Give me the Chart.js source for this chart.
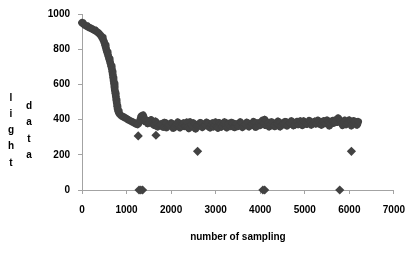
<!DOCTYPE html>
<html>
<head>
<meta charset="utf-8">
<script src="https://cdn.jsdelivr.net/npm/chart.js@4"></script>
<style>
  html, body { margin: 0; padding: 0; background: #ffffff; }
  #wrap { width: 415px; height: 256px; position: relative; }
</style>
</head>
<body>
<div id="wrap"><canvas id="c"></canvas></div>
<script>
// ---- data ----
const sampleIndex = [0,15,30,50,70,90,110,130,150,170,190,210,230,250,270,290,310,330,350,370,
  390,410,430,450,470,490,505,520,535,550,565,580,595,610,625,640,655,670,680,690,
  700,710,720,730,740,750,760,770,780,790,800,815,830,850,870,890,910,940,970,1000,
  1030,1060,1090,1120,1150,1180,1210,1240,1270,
  1300,1330,1370,1400,1450,1500,1550,1600,1650,1700,1750,1800,1850,1900,1950,2000,2050,2100,2150,2200,
  2250,2300,2350,2400,2450,2500,2550,2600,2650,2700,2750,2800,2850,2900,2950,3000,3050,3100,3150,3200,
  3250,3300,3350,3400,3450,3500,3550,3600,3650,3700,3750,3800,3850,3900,3950,4000,4050,4100,4150,4200,
  4250,4300,4350,4400,4450,4500,4550,4600,4650,4700,4750,4800,4850,4900,4950,5000,5050,5100,5150,5200,
  5250,5300,5350,5400,5450,5500,5550,5600,5650,5700,5750,5800,5850,5900,5950,6000,6050,6100,6150,6200];
const lightData = [950,946,944,940,936,933,930,927,925,922,920,918,915,912,909,906,903,900,896,892,
  887,881,875,866,857,846,835,822,808,795,782,770,758,745,732,718,703,688,672,655,
  638,620,603,585,567,548,530,512,494,476,460,447,437,430,425,421,418,414,410,405,
  400,396,392,388,385,380,376,372,378,
  395,420,425,405,395,380,398,372,390,360,372,360,383,355,370,380,352,368,385,355,
  375,362,385,350,372,380,348,370,382,356,368,384,357,372,360,385,352,375,365,386,
  355,370,383,358,375,362,386,356,372,384,360,375,388,358,380,368,395,400,372,360,
  386,365,378,390,360,376,388,365,380,392,366,382,372,392,368,384,374,394,370,386,
  376,395,372,388,378,396,365,390,380,398,408,392,368,395,382,396,366,392,380,388];
// readings in between the ones above
const sampleIndexB = [1425,1475,1525,1575,1625,1675,
  1725,1775,1825,1875,1925,1975,2025,2075,2125,2175,
  2225,2275,2325,2375,2425,2475,2525,2575,2625,2675,
  2725,2775,2825,2875,2925,2975,3025,3075,3125,3175,
  3225,3275,3325,3375,3425,3475,3525,3575,3625,3675,
  3725,3775,3825,3875,3925,3975,4025,4075,4125,4175,
  4225,4275,4325,4375,4425,4475,4525,4575,4625,4675,
  4725,4775,4825,4875,4925,4975,5025,5075,5125,5175,
  5225,5275,5325,5375,5425,5475,5525,5575,5625,5675,
  5725,5775,5825,5875,5925,5975,6025,6075,6125,6175];
const lightDataB = [388,378,392,385,368,378,
  366,375,358,382,362,370,378,356,375,368,
  362,380,365,358,386,360,375,364,372,380,
  362,370,376,354,380,368,360,382,358,374,
  368,378,362,382,356,374,370,380,362,368,
  380,365,372,384,362,378,388,382,368,384,
  372,384,362,376,386,366,378,388,370,376,
  384,370,388,374,380,392,376,382,386,376,
  390,380,384,370,392,380,386,374,394,385,
  386,400,380,388,372,385,392,378,388,370];
// stray readings
const strayIndex = [1262,1660,2594,6047,1280,1320,1360,4060,4100,5785];
const strayLight = [307,311,220,220,0,0,0,0,0,0];

const xTicks = [0,1000,2000,3000,4000,5000,6000,7000];
const yTicks = [0,200,400,600,800,1000];
const xTitle = 'number of sampling';
const yTitleCol1 = ['l','i','g','h','t'];
const yTitleCol2 = ['d','a','t','a'];

// ---- build points ----
const mainPoints = sampleIndex.map((x, i) => ({x: x, y: lightData[i]}))
  .concat(sampleIndexB.map((x, i) => ({x: x, y: lightDataB[i]})))
  .sort((a, b) => a.x - b.x);
const strayPoints = strayIndex.map((x, i) => ({x: x, y: strayLight[i]}));

const FONT = "'Liberation Sans', Arial, sans-serif";
const axisGray = '#a3a3a3';
const markColor = '#424242';

const stackedTitle = {
  id: 'stackedTitle',
  afterDraw(chart) {
    const ctx = chart.ctx;
    ctx.save();
    ctx.font = 'bold 10px ' + FONT;
    ctx.fillStyle = '#000';
    ctx.textAlign = 'center';
    ctx.textBaseline = 'middle';
    yTitleCol1.forEach((ch, i) => ctx.fillText(ch, 11, 98 + i * 16.2));
    yTitleCol2.forEach((ch, i) => ctx.fillText(ch, 29, 106 + i * 16.4));
    ctx.restore();
  }
};

Chart.defaults.font.family = FONT;
Chart.defaults.font.weight = 'bold';
Chart.defaults.font.size = 10;
Chart.defaults.color = '#000';

new Chart(document.getElementById('c'), {
  type: 'scatter',
  data: {
    datasets: [{
      data: mainPoints,
      showLine: true,
      borderWidth: 7.5,
      borderJoinStyle: 'round',
      borderCapStyle: 'round',
      tension: 0,
      pointStyle: 'rectRot',
      pointRadius: 4,
      pointHoverRadius: 4,
      pointBorderWidth: 0,
      backgroundColor: markColor,
      borderColor: markColor,
      clip: false
    }, {
      data: strayPoints,
      showLine: false,
      pointStyle: 'rectRot',
      pointRadius: 4.6,
      pointHoverRadius: 4.6,
      pointBorderWidth: 0,
      backgroundColor: markColor,
      borderColor: markColor,
      clip: false
    }]
  },
  plugins: [stackedTitle],
  options: {
    responsive: true,
    maintainAspectRatio: false,
    animation: false,
    events: [],
    layout: { padding: { top: 10, right: 21, left: 0, bottom: 0 } },
    plugins: { legend: { display: false }, tooltip: { enabled: false } },
    scales: {
      x: {
        type: 'linear',
        min: xTicks[0],
        max: xTicks[xTicks.length - 1],
        afterBuildTicks(scale) { scale.ticks = xTicks.map(v => ({value: v})); },
        afterFit(scale) { scale.height = 66; },
        grid: { drawOnChartArea: false, drawTicks: true, tickLength: 4, color: axisGray },
        border: { display: true, color: axisGray, width: 1 },
        ticks: { padding: 10, maxRotation: 0, font: { size: 10, weight: 'bold' }, callback: v => String(v) },
        title: { display: true, text: xTitle, font: { size: 10, weight: 'bold' }, padding: { top: 0, bottom: 13 } }
      },
      y: {
        type: 'linear',
        min: yTicks[0],
        max: yTicks[yTicks.length - 1],
        afterBuildTicks(scale) { scale.ticks = yTicks.map(v => ({value: v})); },
        afterFit(scale) { scale.width = 82; },
        grid: { drawOnChartArea: false, drawTicks: true, tickLength: 4, color: axisGray },
        border: { display: true, color: axisGray, width: 1 },
        ticks: { padding: 8, font: { size: 10, weight: 'bold' }, callback: v => String(v) }
      }
    }
  }
});
</script>
</body>
</html>
